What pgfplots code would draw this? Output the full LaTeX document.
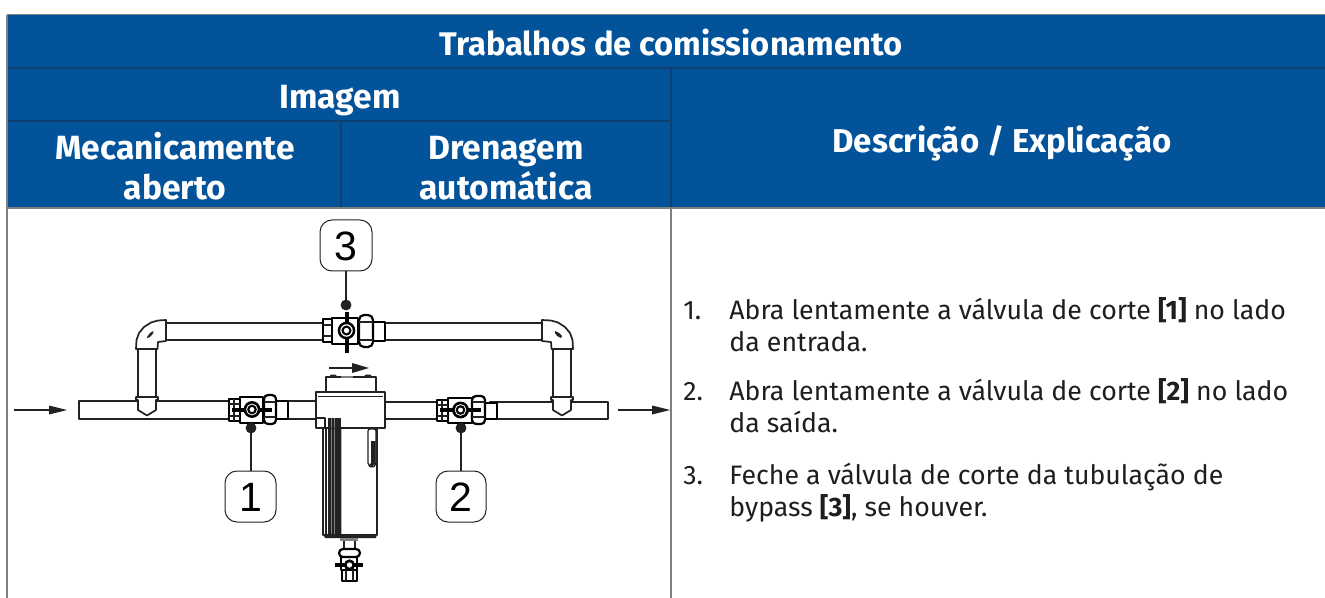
\documentclass[border=0pt]{standalone}
\usepackage{pgfplots}
\pgfplotsset{compat=1.18}
\usepackage{fontspec}
\setmainfont{Fira Sans}
\newfontfamily\arial{Liberation Sans}
\definecolor{hb}{HTML}{03539B}
\definecolor{hl}{HTML}{0E3F70}
\definecolor{gr}{HTML}{7F7F7F}
\definecolor{dk}{HTML}{222222}
\definecolor{tx}{HTML}{1E1E1E}
\newcommand{\pl}[2][]{\addplot[dk,line width=0.85pt,line join=round,#1] coordinates {#2};}
\newcommand{\sh}[2][]{\addplot[draw=dk,fill=white,line width=0.85pt,line join=round,#1] coordinates {#2} --cycle;}
\newcommand{\vs}[2][]{\addplot[draw=black,fill=white,line width=1.1pt,line join=round,#1] coordinates {#2} --cycle;}
\newcommand{\fl}[2][dk]{\addplot[draw=none,fill=#1] coordinates {#2} --cycle;}
\newcommand{\dotm}[3][2.5pt]{\addplot[only marks,mark=*,mark size=#1,mark options={#2}] coordinates {#3};}
\newcommand{\hd}[4][16.8]{\node[text=white,font=\fontsize{#1}{18}\selectfont\bfseries,anchor=base,inner sep=0pt] at (axis cs:#2,#3) {#4};}
\newcommand{\bd}[3]{\node[text=tx,font=\fontsize{13.35}{16}\selectfont,anchor=base west,inner sep=0pt] at (axis cs:#1,#2) {#3};}
\newcommand{\dg}[3]{\node[text=black,font=\arial\fontsize{20.5}{22}\selectfont,anchor=center,inner sep=0pt] at (axis cs:#1,#2) {#3};}
\begin{document}
\begin{tikzpicture}[x=1pt,y=1pt]
\useasboundingbox (0,0) rectangle (662.5pt,299pt);
\begin{axis}[at={(0,0)},anchor=south west,scale only axis,width=662.5pt,height=299pt,xmin=0,xmax=1325,ymin=0,ymax=598,y dir=reverse,axis lines=none,clip=true,xtick=\empty,ytick=\empty]
% table
\fl[hb]{(7,15)(1325,15)(1325,208)(7,208)}
\addplot[gr,line width=0.5pt] coordinates {(7,15)(1325,15)};
\addplot[hl,line width=0.8pt] coordinates {(7,68)(1325,68)};
\addplot[hl,line width=0.8pt] coordinates {(7,121)(671,121)};
\addplot[hl,line width=0.55pt] coordinates {(341,121)(341,208)};
\addplot[hl,line width=0.55pt] coordinates {(671,68)(671,208)};
\addplot[gr,line width=0.6pt] coordinates {(7,208)(1325,208)};
\addplot[gr,line width=0.7pt] coordinates {(7,15)(7,598)};
\addplot[gr,line width=0.7pt] coordinates {(671,208)(671,598)};
% header text
\hd[16.35]{671}{56}{Trabalhos de comissionamento}
\hd{340}{109}{Imagem}
\hd{175}{160}{Mecanicamente}
\hd{175}{200}{aberto}
\hd{506}{160}{Drenagem}
\hd{506}{200}{automática}
\hd[16.5]{1002}{153}{Descrição / Explicação}
% description
\bd{683}{319}{1.}\bd{729}{319}{Abra lentamente a válvula de corte \textbf{[1]} no lado}
\bd{729}{351}{da entrada.}
\bd{683}{400}{2.}\bd{729}{400}{Abra lentamente a válvula de corte \textbf{[2]} no lado}
\bd{729}{432}{da saída.}
\bd{683}{484}{3.}\bd{729}{484}{Feche a válvula de corte da tubulação de}
\bd{729}{516}{bypass \textbf{[3]}, se houver.}
% flow arrows
\pl{(14,410)(50,410)}
\fl{(49,405.5)(67,410)(49,414.5)}
\pl{(618,410)(652,410)}
\fl{(652,405.5)(670,410)(652,414.5)}
\pl{(329,368)(352,368)}
\fl{(352,363)(369,368)(352,373)}
% main pipes
\sh{(79,401)(240,401)(240,419)(79,419)}
\sh{(276,401)(318,401)(318,419)(276,419)}
\sh{(384,402)(440,402)(440,419)(384,419)}
\sh{(490,402)(608,402)(608,419)(490,419)}
% bypass pipes
\sh{(160,323)(330,323)(330,340)(160,340)}
\sh{(380,323)(548,323)(548,340)(380,340)}
% left stem and elbow
\sh{(138,345)(156,345)(156,400)(138,400)}
\sh{(136,397)(158,397)(158,400)(156,400)(156,410)(147,415.5)(138,410)(138,400)(136,400)}
\sh{(136,349)(136.5,340)(139,333)(144,327)(151,322.5)(158,320.5)(166,320)(166,341)(158,342)(157.5,349)}
\fl{(147,337)(150,333)(153.5,331)(153,333.5)(150,337)(147,338)}
% right stem and elbow
\sh{(553,345)(571,345)(571,400)(553,400)}
\sh{(551,397)(573,397)(573,400)(571,400)(571,410)(562,415.5)(553,410)(553,400)(551,400)}
\sh{(573,349)(572.5,340)(570,333)(565,327)(558,322.5)(551,320.5)(542,320)(542,341)(551,342)(551.5,349)}
\fl{(555,331)(559,333)(562,336)(561,338)(557,336)(555,333)}
% valve 1
\vs{(276,401)(288,401)(288,419)(276,419)}
\vs{(229,399)(240,399)(240,421)(229,421)}
\vs{(240,397)(263,397)(263,423)(240,423)}
\vs[rounded corners=2pt]{(264,395)(276,395)(276,424)(264,424)}
\pl[line width=1.1pt]{(229,404)(240,404)}\pl[line width=1.1pt]{(229,416)(240,416)}
\pl[line width=1.1pt]{(264,402)(276,402)}\pl[line width=1.1pt]{(264,417)(276,417)}
\pl[line width=0.6pt]{(234,399)(234,421)}
\pl[line width=2pt,black]{(232,409.5)(272,409.5)}
\dotm[4pt]{fill=black,draw=black}{(252,409.5)}
\dotm[2.7pt]{fill=white,draw=white}{(252,409.5)}
\dotm[2.2pt]{fill=black,draw=black}{(252,409.5)}
\dotm[1pt]{fill=white,draw=white}{(252,409.5)}
\pl[line width=1.1pt]{(251,428)(251,471)}
\dotm{fill=dk,draw=dk}{(251,428)}
\sh[rounded corners=6pt,line width=0.5pt]{(225,471)(276,471)(276,522)(225,522)}
\dg{250.5}{497}{1}
% valve 2
\vs{(485,403)(497,403)(497,419)(485,419)}
\vs{(437,400)(448,400)(448,421)(437,421)}
\vs{(448,398)(472,398)(472,423)(448,423)}
\vs[rounded corners=2pt]{(472,396)(485,396)(485,424)(472,424)}
\pl[line width=1.1pt]{(437,405)(448,405)}\pl[line width=1.1pt]{(437,416)(448,416)}
\pl[line width=1.1pt]{(472,402)(485,402)}\pl[line width=1.1pt]{(472,417)(485,417)}
\pl[line width=0.6pt]{(442,400)(442,421)}
\pl[line width=2pt,black]{(440,410)(481,410)}
\dotm[4pt]{fill=black,draw=black}{(460.5,410)}
\dotm[2.7pt]{fill=white,draw=white}{(460.5,410)}
\dotm[2.2pt]{fill=black,draw=black}{(460.5,410)}
\dotm[1pt]{fill=white,draw=white}{(460.5,410)}
\pl[line width=1.1pt]{(461,428)(461,471)}
\dotm{fill=dk,draw=dk}{(461,428)}
\sh[rounded corners=6pt,line width=0.5pt]{(436,471)(486,471)(486,522)(436,522)}
\dg{460.5}{497}{2}
% valve 3
\vs{(373,322)(385,322)(385,341)(373,341)}
\vs{(323,319)(332,319)(332,342)(323,342)}
\vs{(332,318)(358,318)(358,344)(332,344)}
\vs[rounded corners=2.5pt]{(359,315)(373,315)(373,347)(359,347)}
\pl[line width=1.1pt]{(323,325)(332,325)}\pl[line width=1.1pt]{(323,336)(332,336)}
\pl[line width=1.1pt]{(359,322)(373,322)}\pl[line width=1.1pt]{(359,340)(373,340)}
\pl[line width=2pt,black]{(346.5,312)(346.5,353)}
\dotm[4.2pt]{fill=black,draw=black}{(346.5,330.5)}
\dotm[2.9pt]{fill=white,draw=white}{(346.5,330.5)}
\dotm[2.3pt]{fill=black,draw=black}{(346.5,330.5)}
\dotm[1.1pt]{fill=white,draw=white}{(346.5,330.5)}
\pl[line width=1.1pt]{(346,305)(346,271)}
\dotm{fill=dk,draw=dk}{(346,305)}
\sh[rounded corners=6pt,line width=0.5pt]{(320,220)(372,220)(372,271)(320,271)}
\dg{346}{246}{3}
% filter
\sh{(326,377)(376,377)(376,393)(326,393)}
\fl{(329,377)(331,374.5)(335,374.5)(338,377)}
\fl{(363,377)(366,374.5)(370,374.5)(373,377)}
\pl[line width=1pt,gray]{(341,376.5)(353,376.5)}
\sh{(323,428)(377,428)(377,535)(323,535)}
\pl{(326,428)(326,535)}
\fl{(328,418)(341,418)(341,536)(328,536)}
\addplot[gr,line width=0.4pt] coordinates {(331,418)(331,536)};
\addplot[gr,line width=0.4pt] coordinates {(334.5,418)(334.5,536)};
\addplot[gray!60,line width=0.6pt] coordinates {(341.5,428)(341.5,535)};
\fl{(323,534)(377,534)(376,538)(325,538)}
\sh[line width=1pt]{(316,392)(385,392)(385,428)(316,428)}
\pl[line width=0.5pt]{(318,396)(383,396)}
\fl{(328,418)(341,418)(341,428)(328,428)}
\addplot[gr,line width=0.4pt] coordinates {(331,418)(331,428)};
\addplot[gr,line width=0.4pt] coordinates {(334.5,418)(334.5,428)};
\pl{(316,418)(325,418)(325,428)}
% sight gauge
\sh[line width=0.6pt,rounded corners=1pt]{(368,429)(376,429)(376,465)(372,468)(368,465)}
\fl{(371,441)(375.5,441)(375.5,464)(371,467)(368.5,466)(371,463)}
% drain
\fl[gray]{(340,538)(358,538)(358,541)(340,541)}
\pl{(344,541)(344,549)}\pl{(355,541)(355,549)}
\vs[line width=0.9pt]{(341,556)(357,556)(357,570)(341,570)}
\vs[rounded corners=2pt]{(339,549)(360,549)(360,557)(339,557)}
\vs[line width=0.9pt]{(342,570)(357,570)(357,581)(342,581)}
\pl{(346,570)(346,581)}\pl{(353,570)(353,581)}
\pl[line width=1.7pt,black]{(335,565)(363,565)}
\dotm[2.6pt]{fill=black,draw=black}{(349.5,565)}
\dotm[1.1pt]{fill=white,draw=white}{(349.5,565)}
\end{axis}
\end{tikzpicture}
\end{document}
